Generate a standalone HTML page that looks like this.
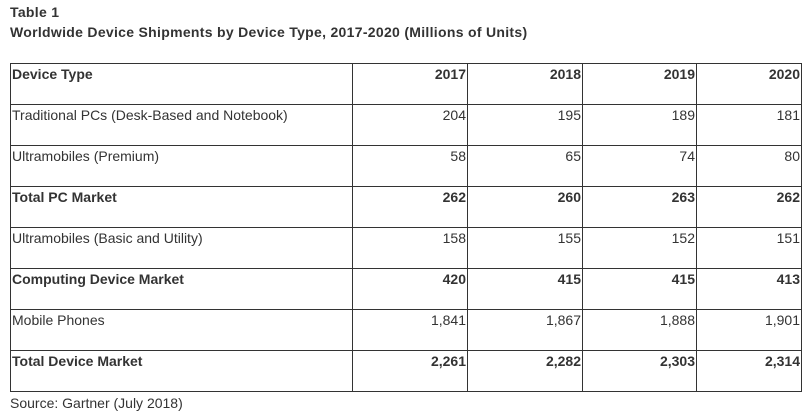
<!DOCTYPE html>
<html><head><style>
body{margin:0;background:#fff;font-family:"Liberation Sans",Arial,sans-serif;color:#333;width:811px;height:406px;overflow:hidden;position:relative}
.t{position:absolute;left:10px;font-weight:bold;font-size:14px;letter-spacing:0.3px}
table{position:absolute;left:10px;top:63px;border-collapse:collapse;font-size:14px}
td{border:1px solid #333;height:40px;padding:0 1px;vertical-align:top;line-height:15px;padding-top:3px;box-sizing:border-box}
td.n{text-align:right}
tr.b td{font-weight:bold}
.s{position:absolute;left:10px;top:395px;font-size:14px}
</style></head><body>
<div class="t" style="top:4px">Table 1</div>
<div class="t" style="top:24px">Worldwide Device Shipments by Device Type, 2017-2020 (Millions of Units)</div>
<table>
<colgroup><col style="width:342px"><col style="width:115px"><col style="width:115px"><col style="width:114px"><col style="width:105px"></colgroup>
<tr class="b" style="height:41px"><td>Device Type</td><td class="n">2017</td><td class="n">2018</td><td class="n">2019</td><td class="n">2020</td></tr>
<tr style="height:41px"><td>Traditional PCs (Desk-Based and Notebook)</td><td class="n">204</td><td class="n">195</td><td class="n">189</td><td class="n">181</td></tr>
<tr style="height:41px"><td>Ultramobiles (Premium)</td><td class="n">58</td><td class="n">65</td><td class="n">74</td><td class="n">80</td></tr>
<tr class="b" style="height:41px"><td>Total PC Market</td><td class="n">262</td><td class="n">260</td><td class="n">263</td><td class="n">262</td></tr>
<tr style="height:41px"><td>Ultramobiles (Basic and Utility)</td><td class="n">158</td><td class="n">155</td><td class="n">152</td><td class="n">151</td></tr>
<tr class="b" style="height:41px"><td>Computing Device Market</td><td class="n">420</td><td class="n">415</td><td class="n">415</td><td class="n">413</td></tr>
<tr style="height:41px"><td>Mobile Phones</td><td class="n">1,841</td><td class="n">1,867</td><td class="n">1,888</td><td class="n">1,901</td></tr>
<tr class="b" style="height:41px"><td>Total Device Market</td><td class="n">2,261</td><td class="n">2,282</td><td class="n">2,303</td><td class="n">2,314</td></tr>
</table>
<div class="s">Source: Gartner (July 2018)</div>
</body></html>
